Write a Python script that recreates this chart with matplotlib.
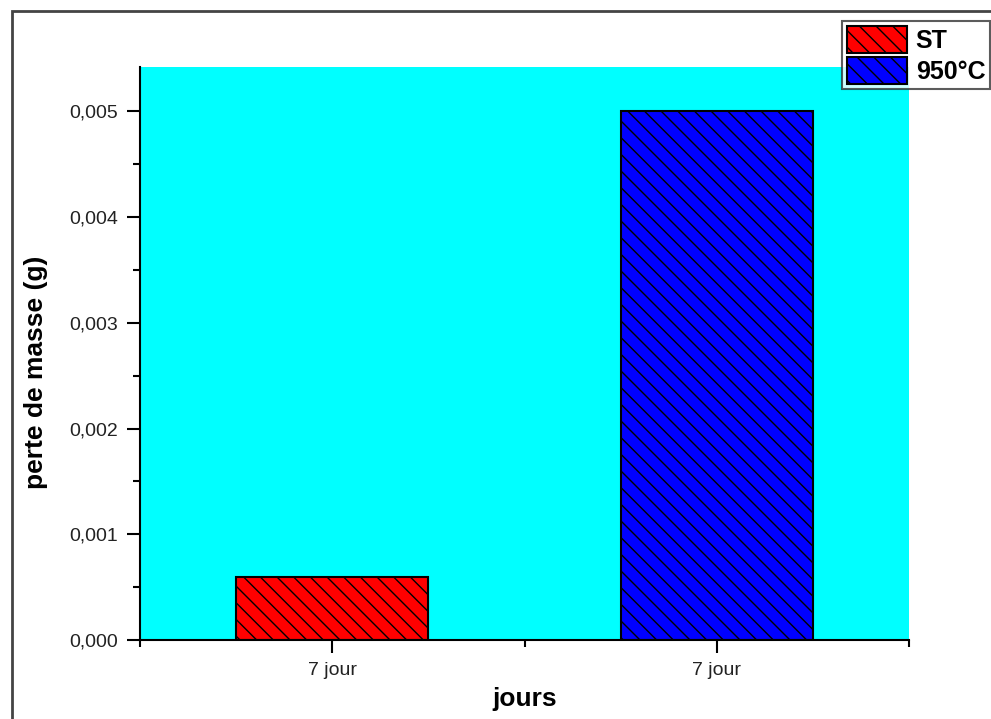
import matplotlib
matplotlib.use('Agg')
import matplotlib.pyplot as plt
from matplotlib.patches import Rectangle
from matplotlib.ticker import FuncFormatter, MultipleLocator, FixedLocator

# donnees
series = ['ST', '950°C']
positions = [1, 2]
perte = [0.0006, 0.005]
tick_labels = ['7 jour', '7 jour']
couleurs = ['#ff0000', '#0000ff']

plt.rcParams['font.family'] = ['Liberation Sans', 'DejaVu Sans']
plt.rcParams['hatch.linewidth'] = 1.0

fig = plt.figure(figsize=(9.91, 7.19), dpi=100)
ax = fig.add_axes([140 / 991, 79 / 719, 769 / 991, 573 / 719])
ax.set_facecolor('#00ffff')

for pos, val, c, lab in zip(positions, perte, couleurs, series):
    ax.bar(pos, val, width=0.5, color=c, edgecolor='black',
           linewidth=1.5, hatch='\\\\', label=lab, zorder=2)

ax.set_xlim(0.5, 2.5)
ax.set_ylim(0, 0.00542)

ax.xaxis.set_major_locator(FixedLocator(positions))
ax.set_xticklabels(tick_labels)
ax.xaxis.set_minor_locator(FixedLocator([0.5, 1.5, 2.5]))
ax.yaxis.set_major_locator(MultipleLocator(0.001))
ax.yaxis.set_minor_locator(MultipleLocator(0.0005))
ax.yaxis.set_major_formatter(FuncFormatter(lambda v, p: f'{v:.3f}'.replace('.', ',')))

for s in ['top', 'right']:
    ax.spines[s].set_visible(False)
for s in ['left', 'bottom']:
    ax.spines[s].set_linewidth(1.5)
    ax.spines[s].set_zorder(3)

ax.tick_params(which='major', length=9.5, width=1.5, direction='out',
               labelsize=14, pad=6, color='black', labelcolor='#222222')
ax.tick_params(which='minor', length=5, width=1.5, direction='out')

ax.set_xlabel('jours', fontsize=19, fontweight='bold', labelpad=6)
ax.set_ylabel('perte de masse (g)', fontsize=19, fontweight='bold')
ax.yaxis.set_label_coords(-0.12, 0.468)

# legende
leg = fig.legend(loc='upper left', bbox_to_anchor=(842 / 991, 1 - 21 / 719),
                 prop={'size': 18, 'weight': 'bold'}, handlelength=2.4,
                 handleheight=1.3, handletextpad=0.35, labelspacing=0.15,
                 borderpad=0.2, borderaxespad=0, frameon=True, fancybox=False,
                 shadow=False)
leg.get_frame().set_edgecolor('#333333')
leg.get_frame().set_linewidth(1.5)

# cadre exterieur
fig.add_artist(Rectangle((12 / 991, -0.1), 1.2, 1.1 - 11 / 719,
                         transform=fig.transFigure, fill=False,
                         edgecolor='#444444', linewidth=2))

plt.savefig('out.png', dpi=100)
